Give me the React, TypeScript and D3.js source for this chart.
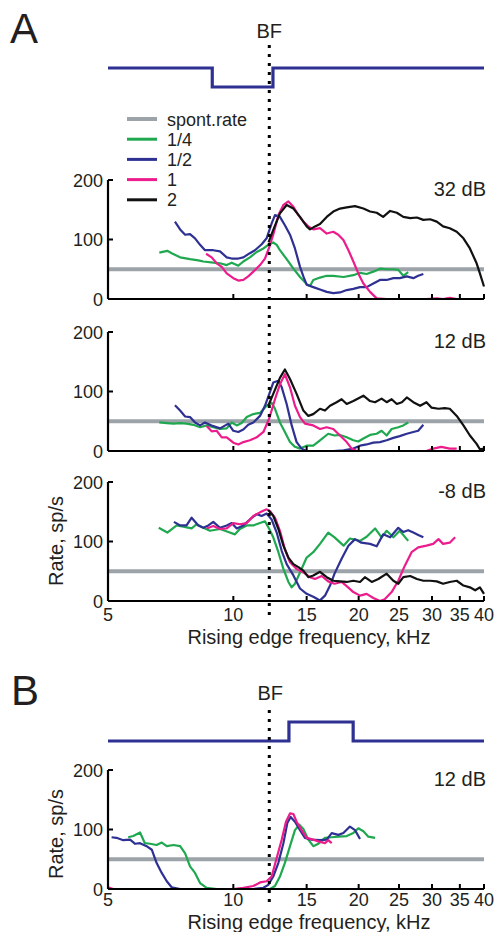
import * as d3 from "d3";

// rising-edge frequency (kHz), rate (sp/s)
type Pt = [number, number];

const xTicks = [5, 10, 15, 20, 25, 30, 35, 40];
const yTicks = [0, 100, 200];
const bfFreq = 12.2;
const spontRate = 50;
const stepA: Pt[] = [[5, 1], [8.9, 0], [12.45, 1], [40, 1]];
const stepB: Pt[] = [[5, 0], [13.6, 1], [19.4, 0], [40, 0]];
const legendLabels = ["spont.rate", "1/4", "1/2", "1", "2"];

const a32Green: Pt[] = [[6.64,78],[6.94,81],[7.11,77],[7.45,70],[7.87,67],[8.24,65],[8.47,63],[8.95,61],[9.29,60],[9.64,57],[9.91,61],[10.28,56],[10.57,63],[10.96,70],[11.38,79],[11.81,85],[12.2,92],[12.47,95],[12.71,91],[12.94,82],[13.43,67],[13.94,51],[14.46,37],[15.0,25],[15.28,22],[15.56,32],[16.15,36],[16.76,39],[17.38,39],[18.4,37],[19.42,40],[20.15,44],[20.9,42],[21.69,46],[22.5,51],[23.35,50],[24.23,50],[24.9,49],[25.6,39],[26.3,45]];
const a32Blue: Pt[] = [[7.24,130],[7.45,117],[7.66,108],[7.87,109],[8.09,102],[8.32,91],[8.55,82],[8.95,82],[9.29,80],[9.64,70],[9.91,68],[10.28,68],[10.57,70],[10.96,77],[11.27,82],[11.7,92],[12.02,102],[12.36,127],[12.59,141],[12.94,138],[13.3,124],[13.68,108],[14.06,85],[14.46,54],[14.73,38],[15.0,24],[15.56,20],[16.15,16],[16.76,12],[17.38,10],[18.04,11],[18.72,15],[19.42,17],[20.15,20],[20.9,20],[21.69,26],[22.5,32],[23.35,32],[24.23,35],[25.1,35],[26.1,38],[27.06,35],[27.8,39],[28.6,42]];
const a32Pink: Pt[] = [[8.6,76],[8.87,70],[9.12,60],[9.38,54],[9.64,43],[10.0,35],[10.28,31],[10.57,32],[10.86,38],[11.17,46],[11.59,57],[11.91,68],[12.2,87],[12.47,108],[12.83,141],[13.19,158],[13.56,164],[13.94,155],[14.33,141],[14.73,130],[15.14,122],[15.56,117],[16.15,119],[16.76,110],[17.38,113],[17.87,108],[18.38,99],[18.9,82],[19.42,63],[19.96,43],[20.53,26],[21.3,12],[22.1,1],[23.35,0],[25.1,0],[27.06,0],[29.1,0],[30.8,1],[31.9,0],[33.1,2],[34.4,0]];
const a32Black: Pt[] = [[12.15,95],[12.47,116],[12.94,144],[13.43,158],[13.94,152],[14.46,138],[15.0,122],[15.28,117],[15.71,122],[16.15,126],[16.76,138],[17.38,147],[18.04,152],[18.72,154],[19.6,156],[20.53,152],[21.3,147],[22.1,145],[22.9,138],[23.8,148],[24.7,145],[25.6,138],[26.6,136],[27.6,137],[28.6,133],[29.7,134],[30.8,130],[31.9,122],[33.1,119],[34.4,113],[35.7,102],[37.0,85],[38.4,60],[39.1,43],[40,21]];

const a12Green: Pt[] = [[6.64,48],[6.92,47],[7.18,46],[7.45,47],[7.72,46],[8.02,44],[8.32,40],[8.63,43],[8.95,40],[9.29,37],[9.64,38],[9.91,48],[10.19,43],[10.47,47],[10.77,57],[11.17,62],[11.59,64],[12.02,76],[12.36,81],[12.59,71],[12.94,48],[13.3,32],[13.68,15],[14.06,7],[14.46,4],[15.0,9],[15.56,9],[16.15,18],[16.9,29],[17.5,26],[18.04,27],[18.72,23],[19.42,18],[19.96,16],[20.53,21],[21.3,27],[22.1,29],[22.7,34],[23.35,26],[24.0,37],[24.9,40],[25.6,43],[26.3,48]];
const a12Blue: Pt[] = [[7.24,77],[7.45,68],[7.66,58],[7.87,57],[8.09,48],[8.32,43],[8.55,48],[8.87,43],[9.29,38],[9.73,46],[10.0,34],[10.28,32],[10.57,36],[10.86,44],[11.17,48],[11.59,59],[11.91,76],[12.2,96],[12.47,115],[12.83,118],[13.07,107],[13.43,79],[13.81,43],[14.19,15],[14.59,4],[15.0,0],[16.15,0],[17.38,0],[18.4,1],[19.42,4],[20.15,9],[20.9,11],[21.69,14],[22.5,15],[23.35,18],[24.23,22],[25.1,25],[26.1,29],[27.06,32],[27.8,34],[28.6,44]];
const a12Pink: Pt[] = [[8.63,42],[8.87,33],[9.12,34],[9.38,23],[9.64,23],[10.0,14],[10.28,11],[10.57,15],[10.96,18],[11.38,23],[11.81,32],[12.2,55],[12.59,87],[12.94,112],[13.3,129],[13.68,107],[14.06,76],[14.46,57],[14.86,46],[15.56,43],[16.15,37],[16.76,40],[17.38,37],[18.04,26],[18.72,15],[19.24,4],[19.8,0],[21.3,0],[24.6,0],[29.1,0],[30.2,4],[31.6,7],[33.1,4],[34.4,4]];
const a12Black: Pt[] = [[12.13,76],[12.47,96],[12.94,123],[13.3,137],[13.68,121],[14.19,96],[14.73,68],[15.14,59],[15.56,62],[16.15,71],[16.6,68],[17.07,76],[17.7,82],[18.2,87],[18.72,79],[19.42,84],[20.53,93],[21.3,84],[21.9,82],[22.7,88],[23.35,82],[24.0,87],[24.7,79],[25.4,82],[26.1,90],[27.06,82],[28.1,76],[29.1,82],[29.9,73],[31.1,71],[32.2,72],[33.1,71],[34.4,59],[35.7,43],[37.0,26],[38.4,12],[39.1,3],[40,4]];

const m8Green: Pt[] = [[6.62,123],[6.94,115],[7.31,127],[7.58,125],[7.94,122],[8.16,129],[8.47,123],[8.79,118],[9.29,121],[9.73,116],[10.09,112],[10.37,121],[10.77,127],[11.17,127],[11.59,131],[11.91,134],[12.2,121],[12.47,107],[12.83,82],[13.19,54],[13.56,32],[13.81,23],[14.06,29],[14.46,48],[15.0,73],[15.56,82],[16.15,96],[16.9,115],[17.5,107],[18.4,93],[19.06,105],[20.15,101],[20.9,108],[21.9,122],[22.7,107],[23.35,118],[24.23,107],[25.1,118],[26.3,101]];
const m8Blue: Pt[] = [[7.2,133],[7.45,127],[7.72,127],[7.94,140],[8.24,127],[8.47,123],[8.71,127],[8.95,133],[9.29,123],[9.64,127],[9.91,131],[10.19,122],[10.57,127],[10.96,137],[11.38,146],[11.7,143],[12.02,147],[12.36,137],[12.71,115],[13.07,84],[13.43,62],[13.94,43],[14.46,21],[15.0,12],[15.56,7],[16.15,1],[16.6,9],[17.07,26],[17.5,46],[18.2,71],[18.9,93],[19.6,104],[20.3,98],[21.3,96],[22.1,92],[22.9,112],[23.8,107],[24.9,123],[25.6,116],[26.3,119],[27.06,115],[27.8,111],[28.6,107]];
const m8Pink: Pt[] = [[8.63,122],[8.95,126],[9.29,121],[9.64,122],[10.0,131],[10.37,129],[10.77,131],[11.17,143],[11.59,149],[12.02,154],[12.25,151],[12.59,140],[12.94,118],[13.3,87],[13.68,65],[14.19,54],[14.73,48],[15.28,40],[15.71,37],[16.3,42],[16.9,33],[17.5,29],[18.2,32],[18.72,25],[19.42,15],[20.15,9],[20.9,12],[21.69,5],[22.5,0],[23.1,3],[24.0,15],[24.9,34],[25.8,59],[26.8,82],[27.8,90],[29.1,93],[30.2,96],[31.1,104],[31.9,96],[33.1,98],[34.1,107]];
const m8Black: Pt[] = [[12.13,153],[12.47,143],[12.83,121],[13.19,93],[13.56,73],[13.94,62],[14.33,57],[14.73,51],[15.14,40],[15.56,43],[16.15,49],[16.76,40],[17.38,34],[18.04,33],[18.72,32],[19.42,34],[20.15,32],[20.7,40],[21.5,32],[22.3,37],[23.35,46],[24.23,34],[24.9,29],[25.6,40],[26.6,42],[27.6,37],[28.6,34],[29.7,34],[30.8,33],[31.9,29],[33.1,32],[34.4,34],[35.7,26],[37.0,23],[38.1,18],[39.1,23],[40,12]];

const bGreen: Pt[] = [[5.59,87],[5.75,89],[5.97,95],[6.13,77],[6.31,76],[6.54,74],[6.73,78],[6.92,72],[7.18,74],[7.45,72],[7.66,60],[7.87,38],[8.09,27],[8.32,10],[8.63,2],[9.12,0],[10.96,0],[11.81,0],[12.25,0],[12.59,5],[12.94,21],[13.3,44],[13.68,72],[14.06,99],[14.41,108],[14.73,101],[15.14,83],[15.56,72],[16.0,76],[16.6,86],[17.23,87],[17.87,88],[18.72,89],[19.42,94],[19.96,102],[20.53,97],[21.1,88],[21.9,86]];
const bBlue: Pt[] = [[5.1,87],[5.24,86],[5.44,82],[5.65,83],[5.81,76],[5.97,77],[6.19,72],[6.37,66],[6.54,44],[6.73,27],[6.92,13],[7.11,3],[7.45,0],[8.32,0],[10,0],[11.17,0],[11.81,2],[12.13,7],[12.47,21],[12.83,44],[13.19,77],[13.48,111],[13.73,121],[14.06,113],[14.46,99],[14.86,86],[15.42,83],[16.15,82],[16.76,83],[17.23,94],[17.87,91],[18.38,94],[19.06,105],[19.6,99],[20.15,84]];
const bPink: Pt[] = [[5.0,3],[5.15,0],[5.75,0],[8.32,0],[10.0,0],[10.57,2],[11.17,5],[11.59,11],[12.02,13],[12.36,21],[12.71,52],[13.07,83],[13.38,113],[13.68,127],[13.94,126],[14.19,113],[14.59,99],[15.0,86],[15.56,83],[16.0,80],[16.6,77],[16.9,82],[17.23,77]];

const GREEN = "#1fa84f";
const BLUE = "#2e3192";
const PINK = "#ec1c8c";
const BLACK = "#111";
const GRAY = "#9ca3a9";
const TXT = "#231f20";
const FONT = "'Liberation Sans', Arial, Helvetica, sans-serif";

const X0 = 108;
const X1 = 484;
const x = d3.scaleLog().domain([5, 40]).range([X0, X1]);

function Subplot({ top, bottom, label, series, tickLabels }: any) {
  const y = d3.scaleLinear().domain([0, 200]).range([bottom, top]);
  const line = d3.line<Pt>().x(d => x(d[0])).y(d => y(d[1]));
  return (
    <g>
      <line x1={X0} x2={X1} y1={y(spontRate)} y2={y(spontRate)} stroke={GRAY} strokeWidth={4} />
      {series.map((s: any, i: number) => (
        <path key={i} d={line(s.data) || ""} fill="none" stroke={s.color} strokeWidth={2.2} strokeLinejoin="round" />
      ))}
      <line x1={X0} x2={X0} y1={top} y2={bottom} stroke="#000" strokeWidth={2.2} />
      <line x1={X0} x2={X1} y1={bottom} y2={bottom} stroke="#000" strokeWidth={2.2} />
      {yTicks.map(t => (
        <g key={t}>
          <line x1={X0} x2={X0 + 5} y1={y(t)} y2={y(t)} stroke="#000" strokeWidth={2} />
          <text x={X0 - 5} y={y(t) + 6.5} textAnchor="end" fontSize={18} fill={TXT}>{t}</text>
        </g>
      ))}
      {xTicks.map(t => (
        <line key={t} x1={x(t)} x2={x(t)} y1={bottom} y2={bottom - 5} stroke="#000" strokeWidth={2} />
      ))}
      {tickLabels && xTicks.map(t => (
        <text key={"l" + t} x={x(t)} y={bottom + tickLabels[0]} textAnchor="middle" fontSize={18} fill={TXT}>{t}</text>
      ))}
      {tickLabels && (
        <text x={309} y={bottom + tickLabels[1]} textAnchor="middle" fontSize={20} fill={TXT}>Rising edge frequency, kHz</text>
      )}
      <text x={486} y={top + 16} textAnchor="end" fontSize={20} fill={TXT}>{label}</text>
    </g>
  );
}

export default function App() {
  const stepYA = d3.scaleLinear().domain([0, 1]).range([87, 68]);
  const stepYB = d3.scaleLinear().domain([0, 1]).range([741, 722]);
  const stepLineA = d3.line<Pt>().x(d => x(d[0])).y(d => stepYA(d[1])).curve(d3.curveStepAfter);
  const stepLineB = d3.line<Pt>().x(d => x(d[0])).y(d => stepYB(d[1])).curve(d3.curveStepAfter);
  const legendColors = [GRAY, GREEN, BLUE, PINK, BLACK];
  const bfX = x(bfFreq);

  return (
    <svg width={497} height={932} style={{ position: "absolute", left: 0, top: 0, background: "#fff" }} fontFamily={FONT}>
      <text x={10} y={43} fontSize={42} fill={TXT}>A</text>
      <text x={11} y={705} fontSize={42} fill={TXT}>B</text>

      <text x={bfX} y={38} textAnchor="middle" fontSize={20} fill={TXT}>BF</text>
      <text x={bfX + 1} y={700} textAnchor="middle" fontSize={20} fill={TXT}>BF</text>

      <path d={stepLineA(stepA) || ""} fill="none" stroke={BLUE} strokeWidth={3.2} />
      <path d={stepLineB(stepB) || ""} fill="none" stroke={BLUE} strokeWidth={3.2} />

      {legendLabels.map((l, i) => (
        <g key={l}>
          <line x1={127} x2={157} y1={119 + i * 20.2} y2={119 + i * 20.2} stroke={legendColors[i]} strokeWidth={i === 0 ? 4 : 3} />
          <text x={167} y={125.5 + i * 20.2} fontSize={18} fill={TXT}>{l}</text>
        </g>
      ))}

      <Subplot top={180} bottom={299} label="32 dB"
        series={[{ data: a32Green, color: GREEN }, { data: a32Blue, color: BLUE }, { data: a32Pink, color: PINK }, { data: a32Black, color: BLACK }]} />
      <Subplot top={332} bottom={451} label="12 dB"
        series={[{ data: a12Green, color: GREEN }, { data: a12Blue, color: BLUE }, { data: a12Pink, color: PINK }, { data: a12Black, color: BLACK }]} />
      <Subplot top={482} bottom={601} label="-8 dB" tickLabels={[20, 43]}
        series={[{ data: m8Green, color: GREEN }, { data: m8Blue, color: BLUE }, { data: m8Pink, color: PINK }, { data: m8Black, color: BLACK }]} />
      <Subplot top={770} bottom={889} label="12 dB" tickLabels={[17, 40]}
        series={[{ data: bGreen, color: GREEN }, { data: bBlue, color: BLUE }, { data: bPink, color: PINK }]} />

      <text transform="translate(63,541) rotate(-90)" textAnchor="middle" fontSize={20} fill={TXT}>Rate, sp/s</text>
      <text transform="translate(63,834) rotate(-90)" textAnchor="middle" fontSize={20} fill={TXT}>Rate, sp/s</text>

      <line x1={bfX} x2={bfX} y1={45} y2={620} stroke="#000" strokeWidth={3} strokeDasharray="3,6" />
      <line x1={bfX} x2={bfX} y1={710} y2={905} stroke="#000" strokeWidth={3} strokeDasharray="3,6" />
    </svg>
  );
}
